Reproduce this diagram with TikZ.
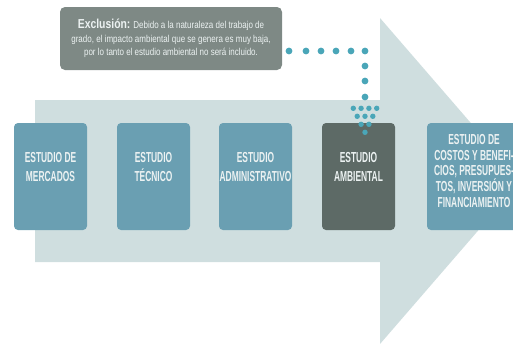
\documentclass[tikz,border=0pt]{standalone}
\usepackage{fontspec}
\newfontfamily\cajafont[FakeStretch=0.58]{Liberation Sans}
\newfontfamily\notafont[FakeStretch=0.8]{Liberation Sans}
\definecolor{flecha}{RGB}{207,222,223}
\definecolor{cajaazul}{RGB}{106,159,178}
\definecolor{cajaoscura}{RGB}{93,106,102}
\definecolor{nota}{RGB}{126,137,133}
\definecolor{puntos}{RGB}{74,166,184}
\definecolor{textoclaro}{RGB}{236,242,242}
\begin{document}
\begin{tikzpicture}[x=1pt, y=-1pt,
    estudio/.style={fill=cajaazul, rounded corners=4pt, minimum width=73pt, minimum height=107pt, inner sep=0pt},
    rotulo/.style={text=textoclaro, font=\cajafont\bfseries\fontsize{14.5}{19}\selectfont, align=center, inner sep=0pt}]
    \useasboundingbox (0,0) rectangle (513,343);

    % 1. Flecha de fondo
    \fill[flecha] (35,100) -- (380,100) -- (380,18) -- (521,181) -- (380,344) -- (380,262) -- (35,262) -- cycle;

    % 2. Cajas de los estudios
    \node[estudio] (mercados) at (50.5,176.5) {};
    \node[estudio] (tecnico) at (153.5,176.5) {};
    \node[estudio] (administrativo) at (255.5,176.5) {};
    \node[estudio, fill=cajaoscura] (ambiental) at (358.5,176.5) {};
    \node[estudio, minimum width=94pt] (costos) at (474,176.5) {};

    % Textos de las cajas
    \node[rotulo] at ([yshift=9.5pt]mercados.center) {ESTUDIO DE\\MERCADOS};
    \node[rotulo] at ([yshift=9.5pt]tecnico.center) {ESTUDIO\\TÉCNICO};
    \node[rotulo] at ([yshift=9.5pt]administrativo.center) {ESTUDIO\\ADMINISTRATIVO};
    \node[rotulo] at ([yshift=9.5pt]ambiental.center) {ESTUDIO\\AMBIENTAL};
    \node[rotulo, font=\cajafont\bfseries\fontsize{14.5}{15.6}\selectfont] at ([yshift=5.5pt]costos.center)
        {ESTUDIO DE\\COSTOS Y BENEFI-\\CIOS, PRESUPUES-\\TOS, INVERSIÓN Y\\FINANCIAMIENTO};

    % 3. Nota de exclusion
    \node[fill=nota, rounded corners=5pt, minimum width=222pt, minimum height=63pt, inner sep=0pt,
        text=textoclaro, align=center, font=\notafont\fontsize{10}{13.5}\selectfont] (exclusion) at (171,38.5)
        {{\bfseries\fontsize{13}{13.5}\selectfont Exclusión:} Debido a la naturaleza del trabajo de\\
         grado, el impacto ambiental que se genera es muy baja,\\
         por lo tanto el estudio ambiental no será incluido.};

    % 4. Linea de puntos hasta el estudio ambiental
    \coordinate (codo) at (365,51);
    \foreach \x in {289,306,321,336,351} \fill[puntos] (\x,51) circle (3.4pt);
    \foreach \y in {0,15,30,46} \fill[puntos] ([yshift=-\y pt]codo) circle (3.4pt);
    \foreach \f in {0,...,3} {
        \pgfmathtruncatemacro{\n}{4-\f}
        \foreach \j in {1,...,\n}
            \fill[puntos] ({365+(\j-(\n+1)/2)*7.8}, {108.3+8*\f}) circle (2.7pt);
    }

\end{tikzpicture}
\end{document}
